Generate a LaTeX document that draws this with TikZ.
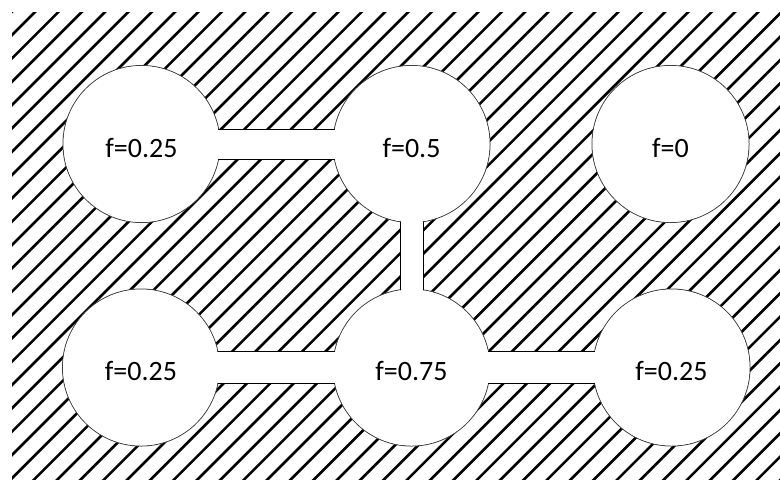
\documentclass[tikz,border=0pt]{standalone}
\usepackage{fontspec}
\setmainfont{Carlito}
\usetikzlibrary{positioning}

\begin{document}
\begin{tikzpicture}[
            x=0.5pt, y=-0.5pt,
            hole/.style={circle, draw=black!75, line width=0.5pt, fill=white, minimum size=78.5pt, inner sep=0pt},
            val/.style={circle, fill=white, minimum size=78pt, inner sep=0pt, text height=13.5pt, font=\fontsize{14}{16}\selectfont},
            channel/.style={draw=black, line width=0.5pt, double=white, double distance=#1},
            hatch/.style={line width=1.3pt}
        ]
            \useasboundingbox (0,0) rectangle (780,479);
            % hatched plate
            \begin{scope}
                \clip (12,12) rectangle (780,479);
                \foreach \k in {-2,...,54}
                    \draw[hatch] ({67+23.33*\k},-20) -- ({-473+23.33*\k},520);
            \end{scope}
            % holes
            \node[hole] (a) at (141.5,144) {};
            \node[hole] (b) at (411.5,144) {};
            \node[hole] (c) at (670.5,144) {};
            \node[hole] (d) at (141,367.5) {};
            \node[hole] (e) at (411.5,367.5) {};
            \node[hole] (f) at (671.5,367.5) {};
            % channels
            \draw[channel=14.5pt] (a.center) -- (b.center);
            \draw[channel=11pt] (b.center) -- (e.center);
            \draw[channel=15.5pt] (d.center) -- (e.center);
            \draw[channel=15.5pt] (e.center) -- (f.center);
            % values
            \node[val] (va) at (a) {f=0.25};
            \node[val] (vb) at (b) {f=0.5};
            \node[val] (vc) at (c) {f=0};
            \node[val] (vd) at (d) {f=0.25};
            \node[val] (ve) at (e) {f=0.75};
            \node[val] (vf) at (f) {f=0.25};
        \end{tikzpicture}
\end{document}
